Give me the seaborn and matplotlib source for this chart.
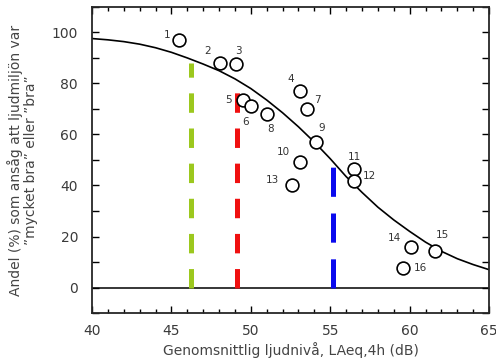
import numpy as np
import pandas as pd
import seaborn as sns
import matplotlib.pyplot as plt
from matplotlib.ticker import MultipleLocator

nr = [1, 2, 3, 4, 5, 6, 7, 8, 9, 10, 11, 12, 13, 14, 15, 16]
laeq = [45.5, 48.05, 49.05, 53.1, 49.5, 50.0, 53.55, 51.0, 54.1, 53.1, 56.5, 56.5, 52.6, 60.1, 61.6, 59.6]
andel = [96.9, 88.2, 87.8, 76.9, 73.7, 71.0, 69.8, 68.2, 56.9, 49.4, 46.3, 41.6, 40.0, 15.7, 14.5, 7.8]

# label offsets (points) per number
lab_dx = [-9, -9, 2, -7, -10, -4, 7, 3, 4, -12, 0, 11, -14, -12, 5, 12]
lab_dy = [4, 8, 9, 9, 0, -11, 7, -11, 10, 7, 9, 4, 4, 7, 11, 0]

# fitted curve
kurva_x = [40, 41, 42, 43, 44, 45, 46, 47, 48, 49, 50, 51, 52, 53, 54, 55, 56, 57, 58, 59, 60, 61, 62, 63, 64, 65]
kurva_y = [97.6, 97.1, 96.4, 95.4, 94.0, 92.2, 90.0, 87.6, 85.0, 81.8, 78.0, 73.5, 68.5, 63.0, 57.0, 50.5,
           43.5, 37.3, 31.5, 26.5, 22.0, 17.8, 14.2, 11.3, 9.0, 7.0]

# dashed reference levels
ref_x = [46.25, 49.15, 55.15]
ref_top = [88.2, 76.9, 47.1]
ref_col = ['#9cc81e', '#f01010', '#0a0aee']
ref_dash = [(14, 11.3), (14, 11.3), (21, 12)]

df = pd.DataFrame({'nr': nr, 'laeq': laeq, 'andel': andel})
kurva = pd.DataFrame({'x': kurva_x, 'y': kurva_y})

sns.set_style('ticks')
plt.rcParams['font.family'] = ['DejaVu Sans']
plt.rcParams['lines.scale_dashes'] = False

fig = plt.figure(figsize=(4.96, 3.64), dpi=100)
ax = fig.add_axes([0.1855, 0.140, 0.8005, 0.841])

sns.lineplot(data=kurva, x='x', y='y', color='black', lw=1.2, ax=ax)
ax.axhline(0, color='black', lw=1.1)

for x, top, c, d in zip(ref_x, ref_top, ref_col, ref_dash):
    ax.plot([x, x], [0, top], color=c, lw=3.6, ls=(0, d), solid_capstyle='butt',
            dash_capstyle='butt')

sns.scatterplot(data=df, x='laeq', y='andel', s=85, facecolor='white',
                edgecolor='black', linewidth=1.2, zorder=5, ax=ax)

for n, x, y, dx, dy in zip(nr, laeq, andel, lab_dx, lab_dy):
    ax.annotate(str(n), (x, y), xytext=(dx, dy), textcoords='offset points',
                ha='center', va='center', fontsize=7.5, color='#333333', zorder=6)

ax.set_xlim(40, 65)
ax.set_ylim(-10, 110)
ax.xaxis.set_major_locator(MultipleLocator(5))
ax.xaxis.set_minor_locator(MultipleLocator(1))
ax.yaxis.set_major_locator(MultipleLocator(20))
ax.yaxis.set_minor_locator(MultipleLocator(10))
ax.set_yticks([0, 20, 40, 60, 80, 100])
ax.tick_params(which='both', direction='in', top=True, right=True, colors='black',
               labelcolor='#3a3a3a', labelsize=10, width=1)
ax.tick_params(which='major', length=5)
ax.tick_params(axis='x', which='minor', length=3)
ax.tick_params(axis='y', which='minor', length=5)
ax.tick_params(axis='y', pad=10)
ax.tick_params(axis='x', pad=8)
for s in ax.spines.values():
    s.set_linewidth(1.3)
    s.set_visible(True)

ax.set_xlabel('Genomsnittlig ljudnivå, LAeq,4h (dB)', fontsize=10, color='#444444', labelpad=3)
ax.set_ylabel('Andel (%) som ansåg att ljudmiljön var\n\u201dmycket bra\u201d eller \u201dbra\u201d',
              fontsize=10, color='#444444', labelpad=10, linespacing=1.1)

fig.savefig('out.png', dpi=100)
